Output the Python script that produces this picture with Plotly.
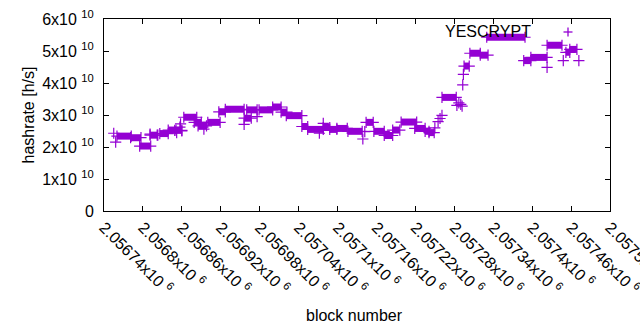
import plotly.graph_objects as go

PURPLE = "#9400d3"

# plateaus: (start block, end block, hashrate h/s)
seg_start = [2056760, 2056781, 2056795, 2056811, 2056826, 2056839, 2056849, 2056863, 2056879, 2056885,
             2056900, 2056917, 2056927, 2056956, 2056960, 2056979, 2057000, 2057013, 2057021, 2057045,
             2057054, 2057078, 2057088, 2057099, 2057116, 2057144, 2057156, 2057172, 2057185, 2057198,
             2057219, 2057235, 2057241, 2057261, 2057295, 2057304, 2057320, 2057330, 2057387, 2057398,
             2057423, 2057452, 2057458]
seg_end = [2056782, 2056797, 2056812, 2056823, 2056839, 2056851, 2056860, 2056883, 2056890, 2056898,
           2056919, 2056927, 2056956, 2056967, 2056976, 2057000, 2057013, 2057022, 2057045, 2057054,
           2057078, 2057088, 2057099, 2057115, 2057138, 2057155, 2057172, 2057185, 2057196, 2057222,
           2057235, 2057241, 2057249, 2057283, 2057303, 2057320, 2057332, 2057389, 2057398, 2057423,
           2057446, 2057458, 2057469]
seg_value = [2.34e10, 2.29e10, 2.03e10, 2.37e10, 2.42e10, 2.53e10, 2.52e10, 2.93e10, 2.77e10, 2.66e10,
             2.77e10, 3.10e10, 3.18e10, 2.90e10, 3.16e10, 3.16e10, 3.25e10, 3.09e10, 2.98e10, 2.64e10,
             2.55e10, 2.61e10, 2.55e10, 2.58e10, 2.49e10, 2.77e10, 2.49e10, 2.36e10, 2.53e10, 2.78e10,
             2.58e10, 2.49e10, 2.45e10, 3.55e10, 4.53e10, 4.93e10, 4.87e10, 5.43e10, 4.70e10, 4.80e10,
             5.18e10, 4.96e10, 5.05e10]

# isolated blocks
pt_block = [2056755, 2056758, 2056811, 2056822, 2056852, 2056857, 2056858, 2056860, 2056894, 2056956,
            2056976, 2057072, 2057078, 2057139, 2057142, 2057250, 2057255, 2057258, 2057261, 2057284,
            2057287, 2057290, 2057292, 2057293, 2057294, 2057423, 2057448, 2057472]
pt_value = [2.43e10, 2.15e10, 2.40e10, 2.37e10, 2.45e10, 2.62e10, 2.72e10, 2.50e10, 2.56e10, 2.71e10,
            2.95e10, 2.43e10, 2.74e10, 2.25e10, 2.48e10, 2.60e10, 2.79e10, 2.89e10, 2.99e10, 3.30e10,
            3.38e10, 3.33e10, 3.28e10, 3.94e10, 4.27e10, 4.49e10, 4.70e10, 4.70e10]

x_ticks = [2056740 + 60 * i for i in range(14)]
x_ticktext = ["2.05674x10 <sup>6</sup>", "2.0568x10 <sup>6</sup>", "2.05686x10 <sup>6</sup>",
              "2.05692x10 <sup>6</sup>", "2.05698x10 <sup>6</sup>", "2.05704x10 <sup>6</sup>",
              "2.0571x10 <sup>6</sup>", "2.05716x10 <sup>6</sup>", "2.05722x10 <sup>6</sup>",
              "2.05728x10 <sup>6</sup>", "2.05734x10 <sup>6</sup>", "2.0574x10 <sup>6</sup>",
              "2.05746x10 <sup>6</sup>", "2.05752x10 <sup>6</sup>"]
y_ticks = [0, 1e10, 2e10, 3e10, 4e10, 5e10, 6e10]
y_ticktext = ["0", "1x10 <sup>10</sup>", "2x10 <sup>10</sup>", "3x10 <sup>10</sup>",
              "4x10 <sup>10</sup>", "5x10 <sup>10</sup>", "6x10 <sup>10</sup>"]

sx, sy = [], []
for a, b, v in zip(seg_start, seg_end, seg_value):
    sx += [a, b, None]
    sy += [v, v, None]

FONT = "Liberation Sans, Arial, sans-serif"
marker = dict(symbol="cross-thin-open", size=8, color=PURPLE, line=dict(color=PURPLE, width=1.2))

fig = go.Figure()
fig.add_trace(go.Scatter(x=sx, y=sy, mode="lines+markers", line=dict(color=PURPLE, width=7),
                         marker=marker, showlegend=False, name="YESCRYPT"))
fig.add_trace(go.Scatter(x=pt_block, y=pt_value, mode="markers", marker=marker,
                         showlegend=False, name="YESCRYPT"))

axis_common = dict(showline=True, linecolor="black", linewidth=1, mirror="allticks",
                   ticks="inside", ticklen=5, tickcolor="black", showgrid=False, zeroline=False,
                   automargin=False, ticklabeloverflow="allow",
                   tickfont=dict(family=FONT, size=16, color="black"))
fig.update_xaxes(range=[2056740, 2057520], tickvals=x_ticks, ticktext=x_ticktext, tickangle=45,
                 **axis_common)
fig.update_yaxes(range=[0, 6e10], tickvals=y_ticks, ticktext=y_ticktext, ticklabelstandoff=6,
                 **axis_common)

fig.update_layout(
    width=640, height=330, margin=dict(l=104, r=30, t=19, b=119),
    paper_bgcolor="white", plot_bgcolor="white",
    font=dict(family=FONT, size=16, color="black"),
    annotations=[
        dict(text="hashrate [h/s]", x=17, y=115, showarrow=False,
             textangle=-90, font=dict(size=16)),
        dict(text="YESCRYPT", x=533, y=31, showarrow=False, xanchor="right", yanchor="middle",
             font=dict(size=16)),
        dict(text="block number", x=354, y=315, showarrow=False, xanchor="center", yanchor="middle",
             font=dict(size=16)),
    ],
)
# legend sample marker, drawn as a thin plus shape (pixel positions)
cx, cy, h = 568, 32, 4.5
L, R, T, B = 104, 610, 19, 211
def px(x):
    return (x - L) / (R - L)
def py(y):
    return (B - y) / (B - T)
fig.add_shape(type="line", xref="paper", yref="paper", x0=px(cx - h), x1=px(cx + h), y0=py(cy), y1=py(cy),
              line=dict(color=PURPLE, width=1.3))
fig.add_shape(type="line", xref="paper", yref="paper", x0=px(cx), x1=px(cx), y0=py(cy - h), y1=py(cy + h),
              line=dict(color=PURPLE, width=1.3))

new_ann = []
for a in fig.layout.annotations:
    a = a.to_plotly_json()
    a["xref"] = "paper"
    a["yref"] = "paper"
    a["x"] = px(a["x"])
    a["y"] = py(a["y"])
    new_ann.append(a)
fig.layout.annotations = new_ann

fig.write_html("out.html", config={"displayModeBar": False},
               post_script="document.body.style.margin='0';document.body.style.overflow='hidden';")
